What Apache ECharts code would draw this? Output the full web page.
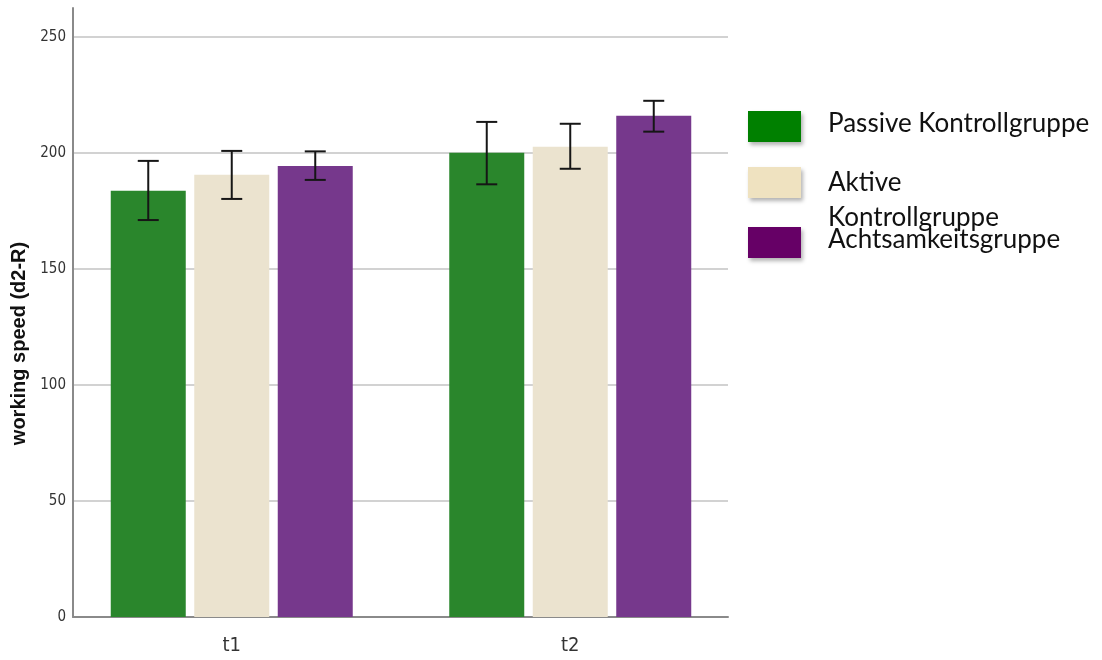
<!DOCTYPE html>
<html>
<head>
<meta charset="utf-8">
<script src="https://cdn.jsdelivr.net/npm/echarts@6/dist/echarts.min.js"></script>
<style>
  html, body { margin: 0; padding: 0; background: #ffffff; }
  #chart { width: 1102px; height: 660px; }
</style>
</head>
<body>
<div id="chart"></div>
<script>
// Measurement times and group names
const categories = ['t1', 't2'];
const groupNames = ['Passive Kontrollgruppe', 'Aktive Kontrollgruppe', 'Achtsamkeitsgruppe'];

// Mean working speed per group (t1, t2)
const passiveMeans = [183.7, 200.1];
const activeMeans = [190.6, 202.7];
const mindfulMeans = [194.4, 216.1];

// Error bar bounds per group (t1, t2)
const passiveLow = [171.1, 186.5];
const passiveHigh = [196.6, 213.4];
const activeLow = [180.2, 193.2];
const activeHigh = [200.9, 212.6];
const mindfulLow = [188.4, 209.2];
const mindfulHigh = [200.7, 222.5];

// Y axis tick range
const yMin = 0;
const yMax = 262.5;
const yStep = 50;

const barColors = ['#2a862c', '#ebe3cf', '#76388c'];
const legendColors = ['#008000', '#efe2c0', '#660066'];

const BAR_W = 75;
const BAR_GAP = 8.5;
const CAP_W = 21;

const AXIS_FONT = "'DejaVu Sans Condensed', 'Liberation Sans', sans-serif";

const chart = echarts.init(document.getElementById('chart'), null, { renderer: 'canvas' });

const means = [passiveMeans, activeMeans, mindfulMeans];
const lows = [passiveLow, activeLow, mindfulLow];
const highs = [passiveHigh, activeHigh, mindfulHigh];

function errorSeries(gi) {
  const data = categories.map((c, i) => [i, lows[gi][i], highs[gi][i]]);
  return {
    type: 'custom',
    name: groupNames[gi] + ' error',
    xAxisIndex: 1,
    yAxisIndex: 1,
    z: 5,
    silent: true,
    data: data,
    renderItem: function (params, api) {
      const dx = (gi - 1) * (BAR_W + BAR_GAP);
      const lo = api.coord([api.value(0), api.value(1)]);
      const hi = api.coord([api.value(0), api.value(2)]);
      const x = lo[0] + dx;
      const style = { stroke: '#161616', lineWidth: 2 };
      return {
        type: 'group',
        children: [
          { type: 'line', shape: { x1: x, y1: lo[1], x2: x, y2: hi[1] }, style: style },
          { type: 'line', shape: { x1: x - CAP_W / 2, y1: hi[1], x2: x + CAP_W / 2, y2: hi[1] }, style: style },
          { type: 'line', shape: { x1: x - CAP_W / 2, y1: lo[1], x2: x + CAP_W / 2, y2: lo[1] }, style: style }
        ]
      };
    }
  };
}

function barSeries(gi) {
  return {
    type: 'bar',
    name: groupNames[gi],
    xAxisIndex: 1,
    yAxisIndex: 1,
    barWidth: BAR_W,
    barGap: (BAR_GAP / BAR_W * 100).toFixed(2) + '%',
    itemStyle: { color: barColors[gi] },
    data: means[gi]
  };
}

// one legend block per group, stacked at the right
const legendTops = [106, 130, 222];
const legendLabels = [
  'Passive Kontrollgruppe\n{s|}',
  '\nAktive\nKontrollgruppe',
  'Achtsamkeitsgruppe\n{s|}'
];
const legends = groupNames.map((name, gi) => ({
  show: true,
  left: 748,
  top: legendTops[gi],
  orient: 'vertical',
  padding: 0,
  itemWidth: 53,
  itemHeight: 31,
  icon: 'rect',
  selectedMode: false,
  data: [{
    name: name,
    itemStyle: {
      color: legendColors[gi],
      shadowBlur: 4,
      shadowOffsetX: 2,
      shadowOffsetY: 3,
      shadowColor: 'rgba(0,0,0,0.3)'
    }
  }],
  formatter: function () { return legendLabels[gi]; },
  textStyle: {
    fontFamily: 'Lato',
    fontSize: 26,
    color: '#111111',
    lineHeight: 35,
    padding: [0, 0, 0, 22],
    rich: { s: { lineHeight: 6, fontSize: 6 } }
  }
}));

const option = {
  animation: false,
  backgroundColor: '#ffffff',
  legend: legends,
  grid: [
    { left: 73, right: 374, top: 8, bottom: 43, containLabel: false },
    { left: 62.5, right: 362.5, top: 8, bottom: 43, containLabel: false }
  ],
  xAxis: [
    {
      gridIndex: 0,
      type: 'value',
      min: 0,
      max: 1,
      axisLine: { show: true, onZero: false, lineStyle: { color: '#8a8a8a', width: 2 } },
      axisTick: { show: false },
      axisLabel: { show: false },
      splitLine: { show: false }
    },
    {
      gridIndex: 1,
      type: 'category',
      data: categories,
      axisLine: { show: false },
      axisTick: { show: false },
      axisLabel: {
        margin: 19,
        fontFamily: AXIS_FONT,
        fontSize: 20,
        color: '#333333'
      }
    }
  ],
  yAxis: [
    {
      gridIndex: 0,
      type: 'value',
      min: yMin,
      max: yMax,
      interval: yStep,
      name: 'working speed (d2-R)',
      nameLocation: 'middle',
      nameGap: 42,
      nameTextStyle: {
        fontFamily: 'Liberation Sans',
        fontWeight: 'bold',
        fontSize: 20,
        color: '#111111',
        padding: [0, 62, 0, 0]
      },
      axisLine: { show: true, lineStyle: { color: '#8a8a8a', width: 2 } },
      axisTick: { show: false },
      axisLabel: {
        margin: 7,
        showMaxLabel: false,
        fontFamily: AXIS_FONT,
        fontSize: 15,
        color: '#333333',
        padding: [5, 0, 0, 0],
        formatter: function (v) { return v % yStep === 0 ? String(v) : ''; }
      },
      splitLine: {
        show: true,
        showMinLine: false,
        showMaxLine: false,
        lineStyle: { color: '#d2d2d2', width: 2 }
      }
    },
    {
      gridIndex: 1,
      type: 'value',
      min: yMin,
      max: yMax,
      interval: yStep,
      show: false,
      splitLine: { show: false }
    }
  ],
  series: [
    barSeries(0), barSeries(1), barSeries(2),
    errorSeries(0), errorSeries(1), errorSeries(2)
  ]
};

chart.setOption(option);
</script>
</body>
</html>
